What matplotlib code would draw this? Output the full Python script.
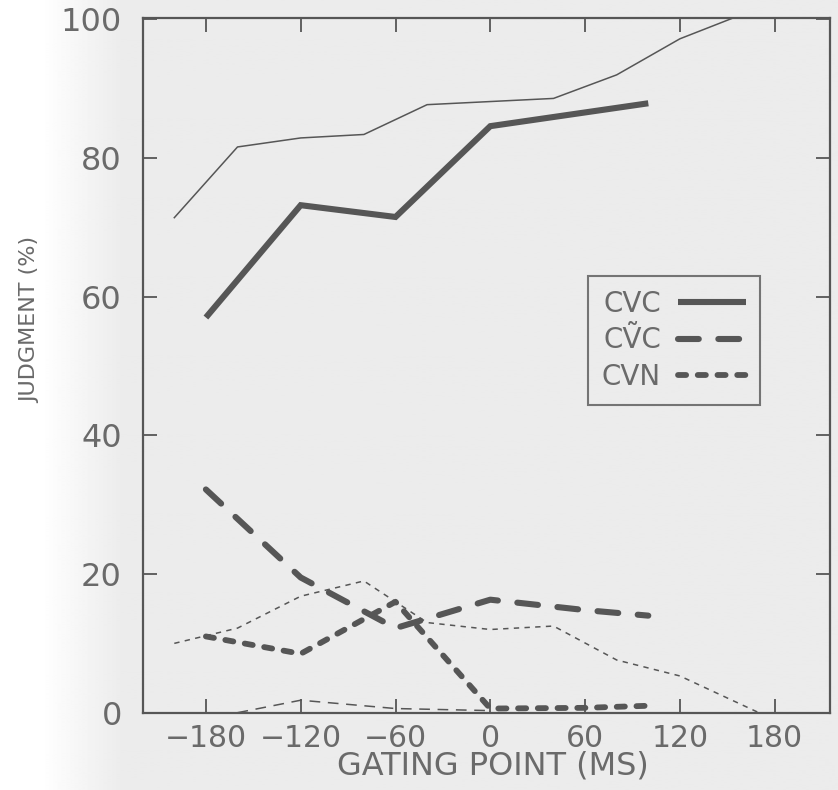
import numpy as np
import matplotlib.pyplot as plt

# gating points (ms) and judgments (%)
# thick lines (in legend)
gate_cvc = [-180, -120, -60, 0, 100]
cvc = [57.0, 73.2, 71.5, 84.6, 87.9]

gate_cvtc = [-180, -120, -60, 0, 60, 100]
cvtc = [32.2, 19.5, 12.2, 16.3, 14.8, 14.0]

gate_cvn = [-180, -120, -60, 0, 60, 100]
cvn = [11.0, 8.5, 16.0, 0.6, 0.7, 1.0]

# thin lines (no legend entry)
gate_thin = [-200, -160, -120, -80, -40, 40, 80, 120, 157]
cvc_thin = [71.4, 81.6, 82.9, 83.4, 87.7, 88.6, 92.0, 97.2, 100.5]

gate_cvtc_thin = [-160, -120, -60, 0]
cvtc_thin = [0.0, 1.8, 0.6, 0.3]

gate_cvn_thin = [-200, -160, -120, -80, -40, 0, 40, 80, 120, 170]
cvn_thin = [10.0, 12.2, 16.8, 19.0, 13.0, 12.0, 12.5, 7.6, 5.3, 0.0]

xticks = [-180, -120, -60, 0, 60, 120, 180]
yticks = [0, 20, 40, 60, 80, 100]
labels = ['CVC', 'C\u1E7CC', 'CVN']

ink = '#565656'
txt = '#6a6a6a'
paper = '#ececec'

plt.rcParams['font.family'] = ['DejaVu Sans']

fig = plt.figure(figsize=(8.38, 7.90), dpi=100)
fig.patch.set_facecolor(paper)

# scan background: white fading into grey paper on the left
bg = fig.add_axes([0, 0, 1, 1], zorder=-10)
xx = np.linspace(0, 838, 838)
fade = np.clip((xx - 40) / 80.0, 0, 1)
row = 1.0 - fade * (1.0 - 236 / 255.0)
img = np.tile(row, (10, 1))
bg.imshow(img, cmap='gray', vmin=0, vmax=1, aspect='auto', extent=(0, 1, 0, 1))
bg.set_axis_off()

ax = fig.add_axes([142.7 / 838, 77.3 / 790, 687.3 / 838, 694.7 / 790])
ax.patch.set_alpha(0)

thick = 4.4
thin = 1.1
l1, = ax.plot(gate_cvc, cvc, color=ink, lw=thick, solid_capstyle='butt', solid_joinstyle='miter')
l2, = ax.plot(gate_cvtc, cvtc, color=ink, lw=thick, linestyle=(0, (3.4, 3.2)),
              dash_capstyle='round')
l3, = ax.plot(gate_cvn, cvn, color=ink, lw=thick * 0.95, linestyle=(0, (1.4, 2.0)),
              dash_capstyle='round')

ax.plot(gate_thin, cvc_thin, color=ink, lw=thin)
ax.plot(gate_cvtc_thin, cvtc_thin, color=ink, lw=thin, linestyle=(0, (7, 5)))
ax.plot(gate_cvn_thin, cvn_thin, color=ink, lw=thin, linestyle=(0, (3.5, 3.5)))

ax.set_xlim(-220, 215)
ax.set_ylim(0, 100.2)
ax.set_xticks(xticks)
ax.set_xticklabels([str(v).replace('-', '\u2212') for v in xticks])
ax.set_yticks(yticks)
ax.tick_params(direction='in', length=10, width=1.3, color=ink,
               top=True, right=True, labelcolor=txt)
ax.tick_params(axis='y', pad=15, labelsize=23)
ax.tick_params(axis='x', pad=8, labelsize=21.5)
for s in ax.spines.values():
    s.set_color(ink)
    s.set_linewidth(1.6)

ax.set_xlabel('GATING POINT (MS)', fontsize=23, color=txt)
ax.xaxis.set_label_coords(0.51, -0.054)
ax.xaxis.label.set_va('top')
ax.set_ylabel('JUDGMENT (%)', fontsize=16, color=txt)
ax.yaxis.set_label_coords(-0.163, 0.565)
ax.yaxis.label.set_va('center')

leg = ax.legend([l1, l2, l3], labels, loc='upper left', bbox_to_anchor=(0.648, 0.629),
                markerfirst=False, fancybox=False, frameon=True, fontsize=20,
                handlelength=2.45, handletextpad=0.6, labelspacing=0.31,
                borderpad=0.5, borderaxespad=0)
leg.get_frame().set_edgecolor(ink)
leg.get_frame().set_facecolor(paper)
leg.get_frame().set_linewidth(1.5)
for t in leg.get_texts():
    t.set_color(txt)

fig.savefig('out.png', dpi=100, facecolor=fig.get_facecolor())
